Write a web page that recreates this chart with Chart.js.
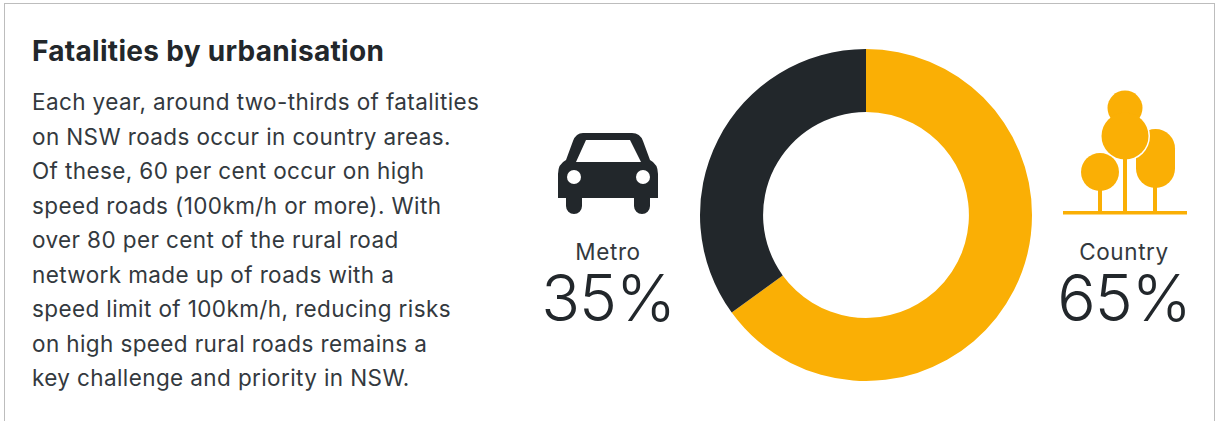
<!DOCTYPE html>
<html lang="en">
<head>
<meta charset="utf-8">
<title>Fatalities by urbanisation</title>
<script src="https://cdn.jsdelivr.net/npm/chart.js@4"></script>
<style>
  html, body { margin: 0; padding: 0; background: #fff; }
  body { width: 1220px; height: 421px; position: relative; overflow: hidden; font-family: Inter, "Noto Sans", sans-serif; color: #22272b; }
  /* panel has no bottom edge, it runs off the page */
  .panel { position: absolute; left: 4px; top: 3px; width: 1211px; height: 430px; border: 1.5px solid #bdbdbd; box-sizing: border-box; }
  h1 { position: absolute; left: 32px; top: 36px; margin: 0; font-size: 28px; letter-spacing: .3px; line-height: 30px; font-weight: 650; white-space: nowrap; }
  #body-text { position: absolute; left: 32px; top: 85px; font-size: 22.5px; letter-spacing: .39px; line-height: 34.5px; color: #33393e; white-space: nowrap; }
  .label { position: absolute; width: 200px; text-align: center; font-size: 22.5px; letter-spacing: .6px; line-height: 26px; top: 239px; color: #33393e; }
  .pct { position: absolute; width: 200px; text-align: center; font-size: 64px; line-height: 70px; top: 263px; font-weight: 300; letter-spacing: -1px; }
  .donut { position: absolute; left: 698px; top: 47px; width: 336px; height: 336px; }
  svg { position: absolute; left: 0; top: 0; }
</style>
</head>
<body>
<div class="panel"></div>
<h1 id="title"></h1>
<div id="body-text"></div>

<div class="label" id="label-0" style="left:508px"></div>
<div class="pct" id="pct-0" style="left:508px"></div>
<div class="label" id="label-1" style="left:1024px"></div>
<div class="pct" id="pct-1" style="left:1024px"></div>

<svg width="1220" height="421">
  <!-- car -->
  <path fill="#22272b" fill-rule="evenodd" d="M583 133 H632 Q640 133 643 141 L650 160 Q658 164 658 174 V198 H650 V206 A8 8 0 0 1 634 206 V198 H582 V206 A8 8 0 0 1 566 206 V198 H558 V174 Q558 164 566 160 L573 141 Q576 133 583 133 Z M586 140 L576 162 H641 L630 140 Z"/>
  <circle cx="574" cy="177" r="7" fill="#fff"/>
  <circle cx="643" cy="177" r="7" fill="#fff"/>
  <!-- trees -->
  <g fill="#faaf05">
    <rect x="1136" y="129" width="39" height="59" rx="19.5"/>
    <circle cx="1125" cy="136" r="25" fill="#fff"/>
    <circle cx="1125" cy="108" r="17.5"/>
    <circle cx="1125" cy="136" r="23.5"/>
    <circle cx="1100" cy="172" r="19"/>
    <rect x="1098" y="188" width="4" height="24"/>
    <rect x="1123" y="158" width="4" height="54"/>
    <rect x="1153" y="186" width="4" height="26"/>
    <rect x="1063" y="211" width="124" height="3.5"/>
  </g>
</svg>

<div class="donut"><canvas id="chart" width="336" height="336"></canvas></div>

<script>
// ---- data ----
const TITLE = "Fatalities by urbanisation";
const BODY_LINES = [
  "Each year, around two-thirds of fatalities",
  "on NSW roads occur in country areas.",
  "Of these, 60 per cent occur on high",
  "speed roads (100km/h or more). With",
  "over 80 per cent of the rural road",
  "network made up of roads with a",
  "speed limit of 100km/h, reducing risks",
  "on high speed rural roads remains a",
  "key challenge and priority in NSW."
];
const CATEGORIES = ["Country", "Metro"];
const SHARES = [65, 35];
const COLOURS = ["#faaf05", "#22272b"];

// ---- text around the ring ----
document.getElementById("title").textContent = TITLE;
document.getElementById("body-text").innerHTML = BODY_LINES.join("<br>");

["Metro", "Country"].forEach((name, i) => {
  const idx = CATEGORIES.indexOf(name);
  document.getElementById("label-" + i).textContent = name;
  document.getElementById("pct-" + i).textContent = SHARES[idx] + "%";
});

// ---- ring ----
new Chart(document.getElementById("chart"), {
  type: "doughnut",
  data: {
    labels: CATEGORIES,
    datasets: [{ data: SHARES, backgroundColor: COLOURS, borderWidth: 0 }]
  },
  options: {
    responsive: false,
    animation: false,
    cutout: "62%",
    layout: { padding: 2 },
    plugins: { legend: { display: false }, tooltip: { enabled: false } }
  }
});
</script>
</body>
</html>
